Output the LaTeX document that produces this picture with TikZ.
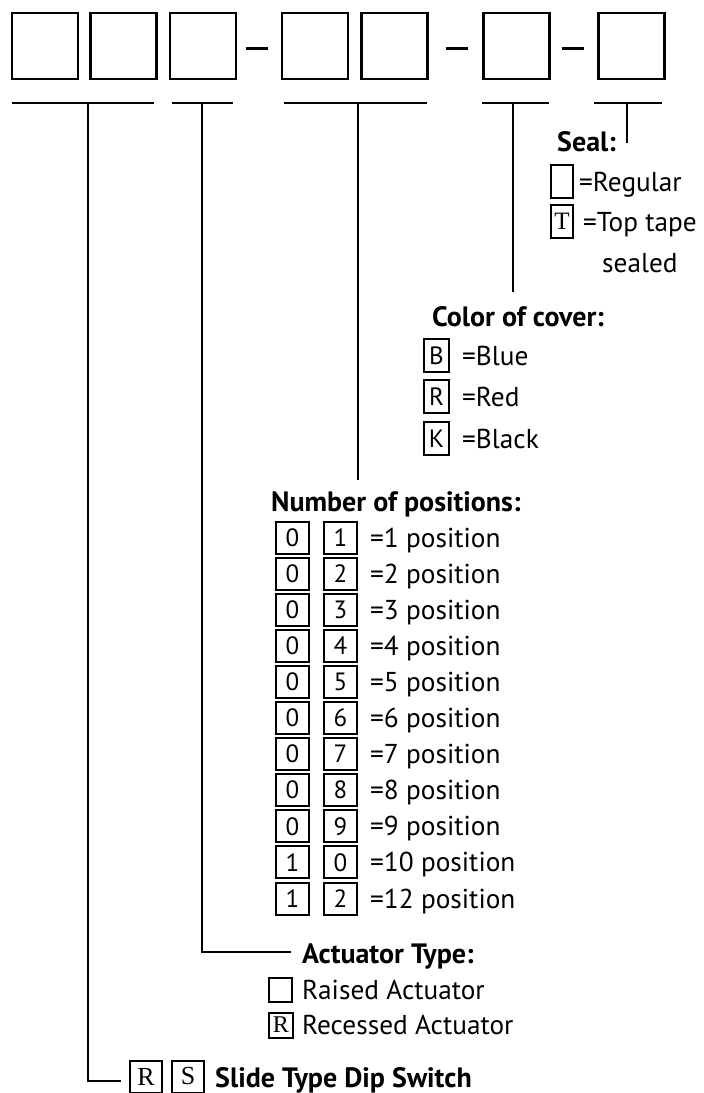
\documentclass[tikz,border=0pt]{standalone}
\usepackage{fontspec}
\setmainfont{PT Sans}
\newfontfamily\boxserif{Liberation Serif}
\begin{document}
\begin{tikzpicture}[x=1pt,y=-1pt,
  bigbox/.style={draw, line width=2.6pt, minimum width=66pt, minimum height=66pt, inner sep=0pt},
  dashmark/.style={line width=3pt},
  uline/.style={line width=2pt},
  lead/.style={line width=2pt},
  txt/.style={anchor=base west, inner sep=0pt, font=\fontsize{27.3}{30}\selectfont},
  head/.style={txt, font=\fontsize{28}{30}\selectfont\bfseries},
  sbox/.style={draw, line width=2pt, inner sep=0pt, minimum width=#1, font=\fontsize{25}{26}\selectfont},
  sbox/.default=25pt
]
\useasboundingbox[fill=white] (0,0) rectangle (704,1093);

% top code boxes
\node[bigbox] (b1) at (45,46) {};
\node[bigbox] (b2) at (123.5,46) {};
\node[bigbox] (b3) at (203,46) {};
\node[bigbox] (b4) at (315,46) {};
\node[bigbox] (b5) at (394.5,46) {};
\node[bigbox] (b6) at (516.5,46) {};
\node[bigbox] (b7) at (631.5,46) {};
\draw[dashmark] (246,48) -- (268,48);
\draw[dashmark] (446,48) -- (468,48);
\draw[dashmark] (562,48) -- (584,48);

% underlines
\draw[uline] (12,103) -- (154,103);
\draw[uline] (172,103) -- (233,103);
\draw[uline] (284,103) -- (427,103);
\draw[uline] (482,103) -- (549,103);
\draw[uline] (594,103) -- (662,103);
\coordinate (u1) at (88,103);
\coordinate (u2) at (202,103);
\coordinate (u3) at (358,103);
\coordinate (u4) at (513,103);
\coordinate (u5) at (627,103);

% Seal
\node[head] (seal) at (557,151) {Seal:};
\coordinate (e5) at (627,143);
\draw[lead] (u5) -- (e5);
\node[sbox=22pt, minimum height=33pt] (s0) at (562,181.5) {};
\node[txt] (sreg) at (579,191) {=Regular};
\node[sbox=22pt, minimum height=33pt, font=\fontsize{25}{26}\boxserif] (sT) at (562,221.5) {T};
\node[txt] (stop) at (583,231) {=Top tape};
\node[txt] (ssea) at (602,272) {sealed};

% Color of cover
\node[head] (cover) at (432,326) {Color of cover:};
\coordinate (e4) at (513,292);
\draw[lead] (u4) -- (e4);
\node[sbox=25pt, minimum height=33pt] (cB) at (436.5,355.5) {B};
\node[txt] at (462,365) {=Blue};
\node[sbox=25pt, minimum height=33pt] (cR) at (436.5,396.5) {R};
\node[txt] at (462,406) {=Red};
\node[sbox=25pt, minimum height=33pt] (cK) at (436.5,438.5) {K};
\node[txt] at (462,448) {=Black};

% Number of positions
\node[head] (npos) at (271,511) {Number of positions:};
\coordinate (e3) at (358,480);
\draw[lead] (u3) -- (e3);
\foreach \a/\b/\t [count=\i from 0] in {0/1/1,0/2/2,0/3/3,0/4/4,0/5/5,0/6/6,0/7/7,0/8/8,0/9/9,1/0/10,1/2/12}{
  \pgfmathsetmacro{\yy}{537.5+\i*36.1}
  \node[sbox=33pt, minimum height=32pt] (pa\i) at (292.5,\yy) {\a};
  \node[sbox=33pt, minimum height=32pt] (pb\i) at (340.5,\yy) {\b};
  \node[txt] (pt\i) at (370,\yy+9.5) {=\t{} position};
}

% Actuator type
\node[head] (act) at (302,963) {Actuator Type:};
\coordinate (c2) at (202,952);
\coordinate (e2) at (291,952);
\draw[lead] (u2) -- (c2) -- (e2);
\node[sbox=23pt, minimum height=24pt] (a0) at (280.5,990) {};
\node[txt] at (302,999) {Raised Actuator};
\node[sbox=24pt, minimum height=25pt, font=\fontsize{24}{26}\boxserif] (aR) at (281,1025) {R};
\node[txt] at (302,1034) {Recessed Actuator};

% Slide type
\node[sbox=32pt, minimum height=32pt, font=\fontsize{26}{28}\boxserif] (rR) at (146,1076.5) {R};
\node[sbox=32pt, minimum height=32pt, font=\fontsize{26}{28}\boxserif] (rS) at (188,1076.5) {S};
\node[head] (slide) at (215,1087) {Slide Type Dip Switch};
\coordinate (c1) at (88,1081);
\coordinate (e1) at (121,1081);
\draw[lead] (u1) -- (c1) -- (e1);
\end{tikzpicture}
\end{document}
